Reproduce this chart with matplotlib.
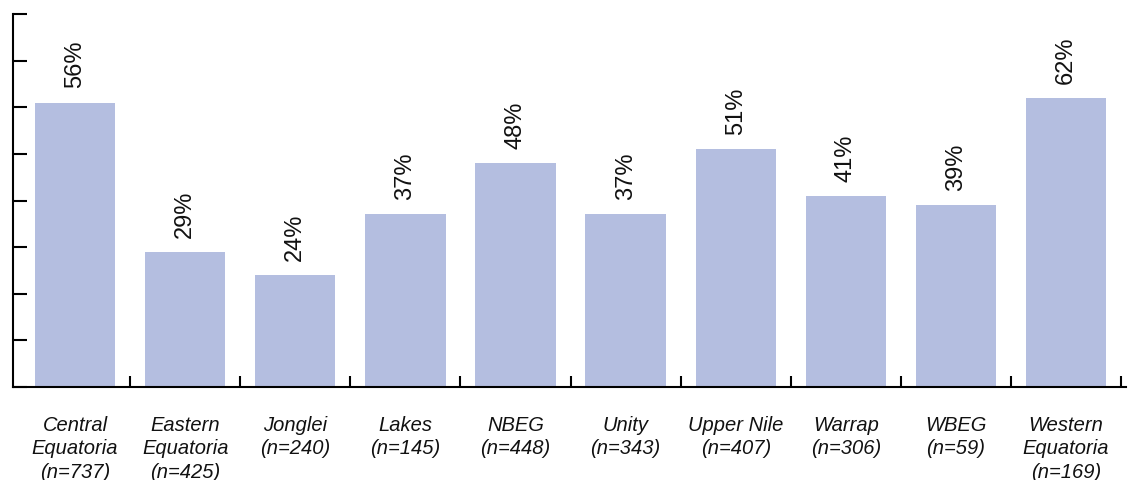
import matplotlib
matplotlib.use("Agg")
import matplotlib.pyplot as plt
import numpy as np

categories = ["Central\nEquatoria\n(n=737)", "Eastern\nEquatoria\n(n=425)", "Jonglei\n(n=240)",
              "Lakes\n(n=145)", "NBEG\n(n=448)", "Unity\n(n=343)", "Upper Nile\n(n=407)",
              "Warrap\n(n=306)", "WBEG\n(n=59)", "Western\nEquatoria\n(n=169)"]
bar_values = [61, 29, 24, 37, 48, 37, 51, 41, 39, 62]
value_labels = ["56%", "29%", "24%", "37%", "48%", "37%", "51%", "41%", "39%", "62%"]

plt.rcParams['font.family'] = ['Liberation Sans', 'DejaVu Sans']

fig = plt.figure(figsize=(11.28, 4.81), dpi=100)
ax = fig.add_axes([13/1128, 93/481, (1126-13)/1128, (388-15)/481])

x = np.arange(len(categories))
ax.bar(x, bar_values, width=0.73, color='#b4bee0', zorder=2)

for xi, v, lab in zip(x, bar_values, value_labels):
    ax.annotate(lab, (xi, v), xytext=(0, 11), textcoords='offset points',
                rotation=90, ha='center', va='bottom', fontsize=17, color='#111111')

ax.set_xlim(-0.564, len(categories) - 1 + 0.545)
ax.set_ylim(0, 80)
ax.set_yticks(np.arange(0, 81, 10))
ax.set_yticklabels([])
ax.tick_params(axis='y', direction='in', length=10, width=1.5, color='black')

ax.set_xticks(x)
ax.set_xticklabels(categories, fontstyle='italic', fontsize=14.5, linespacing=1.3, color='#111111')
ax.tick_params(axis='x', which='major', length=0, pad=20)
ax.set_xticks(np.arange(0.5, len(categories), 1), minor=True)
ax.tick_params(axis='x', which='minor', direction='in', length=8, width=1.5, color='black')

for s in ['top', 'right']:
    ax.spines[s].set_visible(False)
for s in ['left', 'bottom']:
    ax.spines[s].set_linewidth(1.5)

fig.savefig("out.png", dpi=100)
